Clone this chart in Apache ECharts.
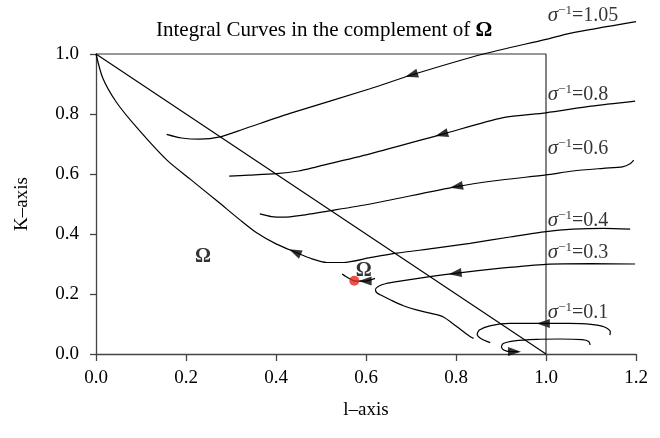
<!DOCTYPE html>
<html>
<head>
<meta charset="utf-8">
<script src="https://cdn.jsdelivr.net/npm/echarts@6/dist/echarts.min.js"></script>
<style>
html,body{margin:0;padding:0;background:#fff}
#chart{width:660px;height:438px}
</style>
</head>
<body>
<div id="chart"></div>
<script>
// tick labels
const xTickLabels = ['0.0', '0.2', '0.4', '0.6', '0.8', '1.0', '1.2'];
const yTickLabels = ['0.0', '0.2', '0.4', '0.6', '0.8', '1.0'];

// integral curves, [l, K]
const curve105 = [[0.157,0.732],[0.19,0.72],[0.231,0.716],[0.276,0.724],[0.327,0.749],[0.431,0.802],[0.609,0.884],[0.701,0.93],[0.861,1.0],[1.0,1.049],[1.053,1.069],[1.2,1.108]];
const curve08 = [[0.296,0.593],[0.34,0.596],[0.401,0.601],[0.45,0.61],[0.49,0.624],[0.609,0.667],[0.768,0.732],[0.905,0.788],[1.0,0.804],[1.1,0.826],[1.198,0.843]];
const curve06 = [[0.364,0.467],[0.39,0.458],[0.416,0.456],[0.46,0.463],[0.505,0.474],[0.609,0.5],[0.801,0.558],[0.9,0.58],[1.0,0.597],[1.06,0.61],[1.127,0.619],[1.17,0.624],[1.187,0.634],[1.195,0.646]];
const curve04 = [[0,1],[0.015,0.92],[0.045,0.84],[0.09,0.756],[0.157,0.647],[0.21,0.582],[0.27,0.509],[0.32,0.447],[0.357,0.404],[0.40,0.367],[0.442,0.34],[0.48,0.317],[0.513,0.305],[0.55,0.305],[0.609,0.321],[0.668,0.336],[0.75,0.352],[0.831,0.369],[0.92,0.39],[1.0,0.408],[1.06,0.416],[1.127,0.419],[1.187,0.416]];
const curve03 = [[1.198,0.30],[1.1,0.301],[1.0,0.299],[0.9,0.286],[0.798,0.269],[0.742,0.258],[0.668,0.241],[0.645,0.235],[0.628,0.226],[0.621,0.215],[0.624,0.204],[0.635,0.195],[0.655,0.18],[0.683,0.161],[0.712,0.147],[0.742,0.136],[0.771,0.124],[0.8,0.093],[0.831,0.058],[0.839,0.052]];
const curve01a = [[1.142,0.063],[1.143,0.075],[1.13,0.09],[1.10,0.099],[1.05,0.102],[0.994,0.102],[0.92,0.102],[0.875,0.094],[0.852,0.08],[0.847,0.066],[0.855,0.052],[0.876,0.038]];
const curve01b = [[1.098,0.03],[1.095,0.042],[1.08,0.048],[1.03,0.05],[0.979,0.049],[0.93,0.044],[0.905,0.035],[0.901,0.024],[0.906,0.013],[0.92,0.008],[0.939,0.008]];
const curveDot = [[0.547,0.267],[0.56,0.254],[0.574,0.244],[0.598,0.243],[0.62,0.252]];
const boxLine = [[0,1],[1,1],[1,0]];
const diagonal = [[0,1],[1,0]];

// arrow heads: [l, K, dl, dK] (direction of flow)
const arrows = [
  [0.701,0.930,-1,-0.45],
  [0.768,0.732,-1,-0.41],
  [0.801,0.558,-1,-0.30],
  [0.442,0.340,-1,0.68],
  [0.798,0.269,-1,-0.20],
  [0.994,0.102,-1,0],
  [0.93,0.008,1,-0.03],
  [0.598,0.243,-1,0]
];

// stationary point
const stationary = [[0.574,0.244]];

// sigma^-1 labels: [l, K, value]
const sigmaLabels = [[1.004,1.13,'1.05'],[1.004,0.867,'0.8'],[1.004,0.687,'0.6'],[1.004,0.447,'0.4'],[1.004,0.34,'0.3'],[1.004,0.14,'0.1']];
const omegaLabels = [[0.238,0.324],[0.595,0.276]];

const font = 'Liberation Serif';
const chart = echarts.init(document.getElementById('chart'));

function curve(data) {
  return {
    type: 'line',
    data: data,
    showSymbol: false,
    smooth: 0.25,
    clip: false,
    silent: true,
    lineStyle: { color: '#000', width: 1.2 }
  };
}

const option = {
  animation: false,
  title: {
    text: 'Integral Curves in the complement of {b|Ω}',
    left: 151,
    top: 15,
    textStyle: {
      fontFamily: font, fontSize: 21, fontWeight: 'normal', color: '#000',
      rich: { b: { fontFamily: font, fontSize: 21, fontWeight: 'bold', color: '#000' } }
    }
  },
  grid: { left: 96, right: 24, top: 54, bottom: 84, outerBoundsMode: 'none' },
  xAxis: {
    type: 'value', min: 0, max: 1.2, interval: 0.2,
    name: 'l\u2013axis', nameLocation: 'middle', nameGap: 47,
    nameTextStyle: { fontFamily: font, fontSize: 19, color: '#000' },
    axisLine: { lineStyle: { color: '#444', width: 1.3 } },
    axisTick: { length: 7, lineStyle: { color: '#444', width: 1.3 } },
    axisLabel: { fontFamily: font, fontSize: 19, color: '#000', margin: 15,
      formatter: (v, i) => xTickLabels[i] },
    splitLine: { show: false }
  },
  yAxis: {
    type: 'value', min: 0, max: 1.0, interval: 0.2,
    name: 'K\u2013axis', nameLocation: 'middle', nameGap: 64,
    nameTextStyle: { fontFamily: font, fontSize: 19, color: '#000' },
    axisLine: { show: true, lineStyle: { color: '#444', width: 1.3 } },
    axisTick: { show: true, length: 6, lineStyle: { color: '#444', width: 1.3 } },
    axisLabel: { fontFamily: font, fontSize: 19, color: '#000', margin: 17,
      formatter: (v, i) => yTickLabels[i] },
    splitLine: { show: false }
  },
  series: [
    Object.assign(curve(boxLine), { smooth: false, lineStyle: { color: '#333', width: 1.2 } }),
    Object.assign(curve(diagonal), { smooth: false }),
    curve(curve105),
    curve(curve08),
    curve(curve06),
    curve(curve04),
    curve(curve03),
    curve(curve01a),
    curve(curve01b),
    curve(curveDot),
    {
      id: 'arrows',
      type: 'scatter',
      symbol: 'triangle',
      symbolSize: [9, 13],
      clip: false,
      silent: true,
      itemStyle: { color: '#000' },
      data: arrows.map(a => [a[0], a[1]])
    },
    {
      type: 'scatter',
      symbolSize: 10,
      silent: true,
      itemStyle: { color: '#e3281b' },
      data: stationary,
      z: 5
    },
    {
      type: 'scatter',
      symbolSize: 0,
      clip: false,
      silent: true,
      data: sigmaLabels,
      label: {
        show: true,
        position: 'right',
        distance: 0,
        formatter: p => '{s|σ}{p|\u22121}{t|=' + p.data[2] + '}',
        rich: {
          s: { fontFamily: font, fontSize: 21, fontStyle: 'italic', color: '#000', verticalAlign: 'bottom', lineHeight: 22 },
          p: { fontFamily: font, fontSize: 13, color: '#000', verticalAlign: 'top', lineHeight: 22 },
          t: { fontFamily: font, fontSize: 20, color: '#000', verticalAlign: 'bottom', lineHeight: 22 }
        }
      }
    },
    {
      type: 'scatter',
      symbolSize: 0,
      clip: false,
      silent: true,
      data: omegaLabels,
      label: {
        show: true,
        position: 'inside',
        formatter: 'Ω',
        fontFamily: font, fontSize: 20, fontWeight: 'bold', color: '#000'
      }
    }
  ]
};

chart.setOption(option);

// rotate arrow heads along the flow direction
const arrowData = arrows.map(a => {
  const p0 = chart.convertToPixel({ gridIndex: 0 }, [a[0], a[1]]);
  const p1 = chart.convertToPixel({ gridIndex: 0 }, [a[0] + a[2] * 0.01, a[1] + a[3] * 0.01]);
  const ang = Math.atan2(-(p1[1] - p0[1]), p1[0] - p0[0]) * 180 / Math.PI;
  return { value: [a[0], a[1]], symbolRotate: ang - 90 };
});
chart.setOption({ series: [{ id: 'arrows', data: arrowData }] });
</script>
</body>
</html>
